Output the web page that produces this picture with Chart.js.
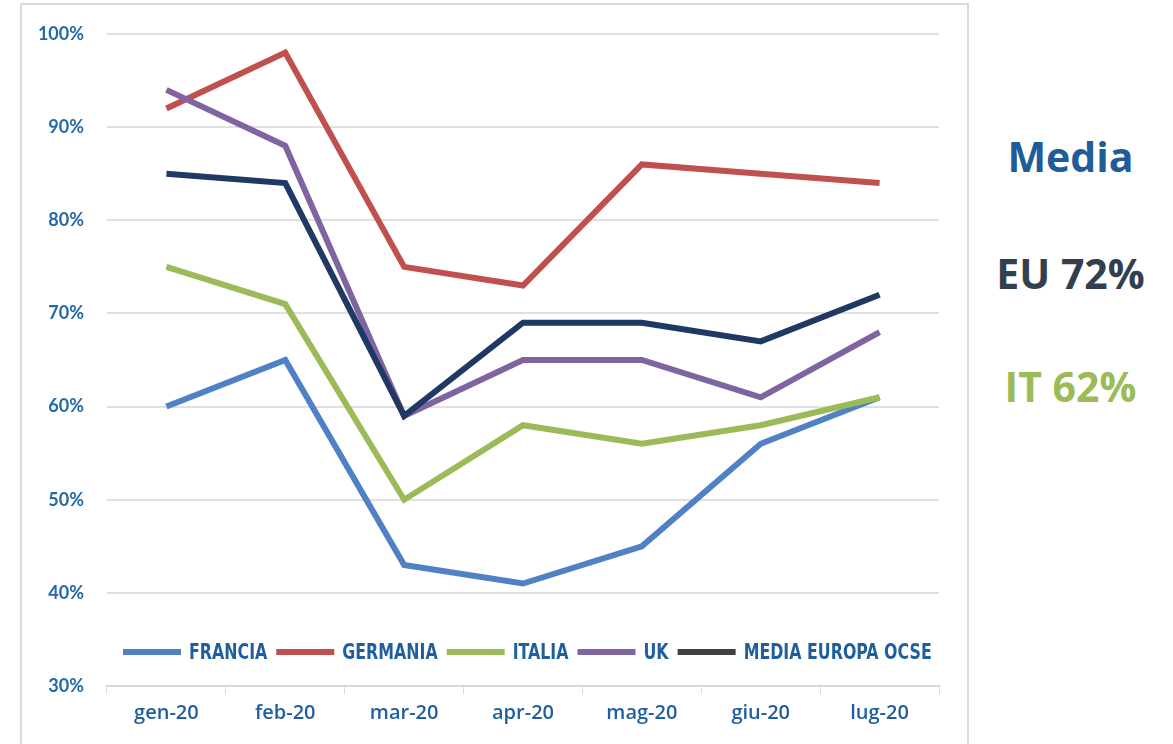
<!DOCTYPE html>
<html>
<head>
<meta charset="utf-8">
<script src="https://cdn.jsdelivr.net/npm/chart.js@4/dist/chart.umd.min.js"></script>
<style>
  body { margin: 0; background: #fff; width: 1173px; height: 744px; overflow: hidden; position: relative; font-family: 'Open Sans', sans-serif; }
  .frame { position: absolute; left: 20px; top: 3px; width: 945px; height: 800px; border: 2px solid #dadada; }
  .wrap { position: absolute; left: 0; top: 0; width: 968px; height: 744px; }
  .side { position: absolute; left: 968px; width: 205px; text-align: center; font-weight: 700; font-size: 41px; }
</style>
</head>
<body>
<div class="frame"></div>
<div class="wrap"><canvas id="chart" width="968" height="744"></canvas></div>
<div class="side" style="top:128px;color:#1f5c99;">Media</div>
<div class="side" style="top:245px;color:#323f4f;">EU 72%</div>
<div class="side" style="top:358px;color:#9bbb59;">IT 62%</div>
<script>
const months = ['gen-20', 'feb-20', 'mar-20', 'apr-20', 'mag-20', 'giu-20', 'lug-20'];
const francia = [60, 65, 43, 41, 45, 56, 61];
const germania = [92, 98, 75, 73, 86, 85, 84];
const italia = [75, 71, 50, 58, 56, 58, 61];
const uk = [94, 88, 59, 65, 65, 61, 68];
const mediaOcse = [85, 84, 59, 69, 69, 67, 72];

const blueText = '#1f5f9e';

// legenda disegnata dentro l'area del grafico (testo stretto in orizzontale)
const insideLegend = {
  id: 'insideLegend',
  afterDraw(chart) {
    const ctx = chart.ctx;
    const area = chart.chartArea;
    const y = area.bottom - 34;
    const squeeze = 0.8;
    let x = area.left + 16;
    ctx.save();
    ctx.font = 'bold 22px "DejaVu Sans Condensed", sans-serif';
    ctx.textBaseline = 'middle';
    chart.data.datasets.forEach(ds => {
      ctx.strokeStyle = ds.legendColor || ds.borderColor;
      ctx.lineWidth = 6;
      ctx.beginPath();
      ctx.moveTo(x, y);
      ctx.lineTo(x + 58, y);
      ctx.stroke();
      x += 66;
      ctx.save();
      ctx.translate(x, y + 1);
      ctx.scale(squeeze, 1);
      ctx.fillStyle = blueText;
      ctx.fillText(ds.label, 0, 0);
      ctx.restore();
      x += ctx.measureText(ds.label).width * squeeze + 9;
    });
    ctx.restore();
  }
};

new Chart(document.getElementById('chart'), {
  type: 'line',
  data: {
    labels: months,
    datasets: [
      { label: 'FRANCIA', data: francia, borderColor: '#4f81c4', order: 4 },
      { label: 'GERMANIA', data: germania, borderColor: '#c0504d', order: 3 },
      { label: 'ITALIA', data: italia, borderColor: '#9bbb59', order: 2 },
      { label: 'UK', data: uk, borderColor: '#8064a2', order: 1 },
      { label: 'MEDIA EUROPA OCSE', data: mediaOcse, borderColor: '#1f3864', legendColor: '#404040', order: 0 }
    ]
  },
  options: {
    responsive: false,
    animation: false,
    layout: { padding: { top: 34, right: 29, left: 0, bottom: 0 } },
    elements: {
      line: { borderWidth: 6, tension: 0, borderJoinStyle: 'miter', borderCapStyle: 'butt' },
      point: { radius: 0 }
    },
    plugins: {
      legend: { display: false },
      tooltip: { enabled: false }
    },
    scales: {
      x: {
        offset: true,
        afterFit(scale) { scale.height = 58; },
        grid: { offset: true, drawOnChartArea: false, drawTicks: true, tickLength: 8, color: '#d9d9d9' },
        border: { display: true, color: '#d9d9d9', width: 2 },
        ticks: {
          color: blueText,
          padding: 7,
          maxRotation: 0,
          autoSkip: false,
          font: { family: '"Open Sans", sans-serif', size: 20, weight: '600' }
        }
      },
      y: {
        min: 30,
        max: 100,
        afterFit(scale) { scale.width = 107; },
        grid: { drawTicks: false, color: '#e0e0e0', lineWidth: 2 },
        border: { display: false },
        ticks: {
          stepSize: 10,
          color: '#2369a8',
          padding: 23,
          font: { family: '"Lato", sans-serif', size: 18, weight: 'bold' },
          callback: v => v + '%'
        }
      }
    }
  },
  plugins: [insideLegend]
});
</script>
</body>
</html>
